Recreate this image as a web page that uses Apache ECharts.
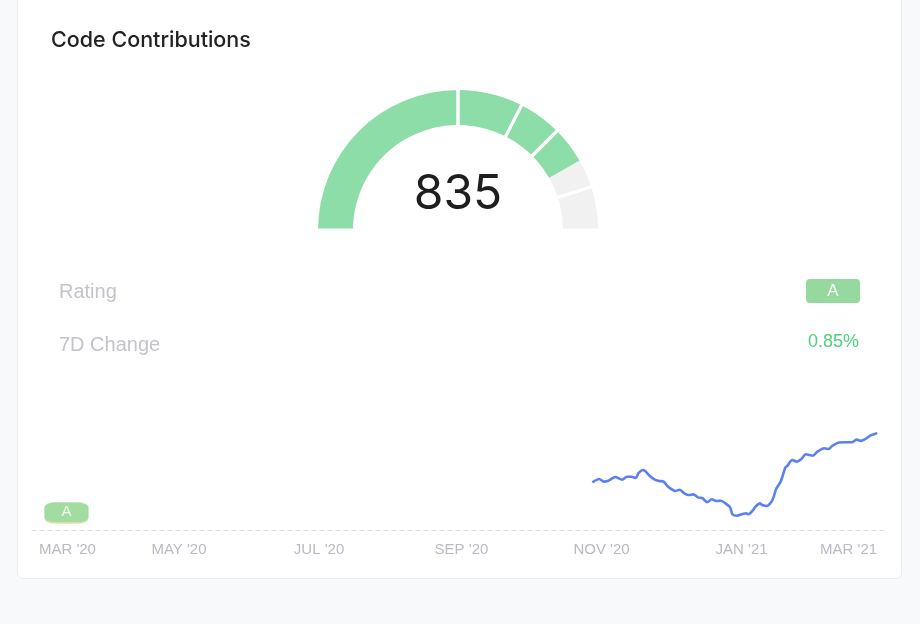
<!DOCTYPE html>
<html><head><meta charset="utf-8">
<script src="https://cdn.jsdelivr.net/npm/echarts@6/dist/echarts.min.js"></script>
<style>
html,body{margin:0;padding:0;width:920px;height:624px;background:#f8f9fb;overflow:hidden;}
#card{position:absolute;left:17px;top:-10px;width:883px;height:587px;background:#fff;border:1px solid #eaecf0;border-radius:6px;}
#chart{position:absolute;left:0;top:0;width:920px;height:624px;}
</style></head><body>
<div id="card"></div><div id="chart"></div>
<script>
// ---- data ----
const titleText = 'Code Contributions';
const gaugeMin = 0, gaugeMax = 1000, gaugeValue = 835;
const gaugeBands = [500, 650, 750, 900];
const rating = 'A';
const ratingLabel = 'Rating';
const changeLabel = '7D Change';
const changePct = 0.85;

const tickDates = ['2020-03-01','2020-05-01','2020-07-01','2020-09-01','2020-11-01','2021-01-01','2021-03-01'];
const tickLabels = ["MAR '20","MAY '20","JUL '20","SEP '20","NOV '20","JAN '21","MAR '21"];

const lineDates = [
 '2020-10-28','2020-10-31','2020-11-02','2020-11-04','2020-11-07','2020-11-10','2020-11-12','2020-11-14',
 '2020-11-16','2020-11-17','2020-11-19','2020-11-20','2020-11-22','2020-11-24','2020-11-26','2020-11-28',
 '2020-11-30','2020-12-02','2020-12-03','2020-12-05','2020-12-07','2020-12-09','2020-12-11','2020-12-13',
 '2020-12-15','2020-12-17','2020-12-19','2020-12-21','2020-12-23','2020-12-25','2020-12-27','2020-12-28',
 '2020-12-30','2021-01-01','2021-01-03','2021-01-04','2021-01-06','2021-01-07','2021-01-09','2021-01-10',
 '2021-01-12','2021-01-14','2021-01-15','2021-01-16','2021-01-18','2021-01-19','2021-01-20','2021-01-21',
 '2021-01-23','2021-01-25','2021-01-27','2021-01-29','2021-02-01','2021-02-03','2021-02-06','2021-02-08',
 '2021-02-09','2021-02-12','2021-02-15','2021-02-18','2021-02-20','2021-02-22','2021-02-24','2021-02-26',
 '2021-02-28','2021-03-01'
];
const lineValues = [
 807.0,808.9,807.4,807.9,810.0,808.5,810.2,810.2,
 809.5,812.1,814.0,813.4,810.6,808.7,807.8,807.4,
 804.5,802.7,802.1,802.8,800.8,799.8,800.2,798.5,
 798.0,795.7,797.4,796.4,796.6,795.1,792.8,788.9,
 788.1,788.9,789.5,788.9,791.3,793.2,795.1,794.2,
 793.6,796.0,798.9,803.2,807.4,811.2,815.3,816.5,
 819.7,818.7,820.2,822.9,822.1,824.4,826.3,825.9,
 827.2,829.5,829.7,829.7,831.2,830.5,831.6,833.5,
 834.4,835.0
];

const badgeDates = ['2020-03-13'];
const badgeValues = [790];
const badgeLabels = ['A'];

// ---- helpers ----
const ts = s => { const p = s.split('-'); return new Date(+p[0], +p[1]-1, +p[2]).getTime(); };
const xMin = ts('2020-02-27'), xMax = ts('2021-03-04');
const labelByTs = {};
tickDates.forEach((d,i)=>{ labelByTs[ts(d)] = tickLabels[i]; });

const GREEN = '#8cdda8', GRAY = '#f1f1f1';
const edges = [gaugeMin].concat(gaugeBands, [gaugeMax]);
const bandSlices = edges.slice(1).map((e,i)=>({value: e - edges[i]}));

const chart = echarts.init(document.getElementById('chart'), null, {renderer:'canvas'});
const option = {
  backgroundColor: 'transparent',
  animation: false,
  grid: {left: 32, right: 36, top: 380, bottom: 94},
  xAxis: {
    type: 'value', min: xMin, max: xMax, scale: true,
    axisLine: {show: true, onZero: false, lineStyle: {color: '#dcdce3', width: 1, type: [4, 4]}},
    axisTick: {show: false},
    splitLine: {show: false},
    axisLabel: {
      customValues: tickDates.map(ts),
      formatter: v => labelByTs[v] || '',
      color: '#b9b9c5', fontSize: 15, fontFamily: 'Liberation Sans',
      margin: 12, alignMinLabel: 'left', alignMaxLabel: 'right',
      hideOverlap: false
    }
  },
  yAxis: {type: 'value', min: 780, max: 865, show: false, splitLine: {show: false}},
  series: [
    {
      type: 'pie', silent: true, center: [458, 230], radius: [105, 140],
      startAngle: 180, endAngle: 0, clockwise: true,
      label: {show: false}, labelLine: {show: false},
      data: [
        {value: gaugeValue - gaugeMin, itemStyle: {color: GREEN}},
        {value: gaugeMax - gaugeValue, itemStyle: {color: GRAY}}
      ]
    },
    {
      type: 'pie', silent: true, center: [458, 230], radius: [102, 143], z: 3,
      startAngle: 180, endAngle: 0, clockwise: true,
      label: {show: false}, labelLine: {show: false},
      itemStyle: {color: 'rgba(0,0,0,0)', borderColor: '#ffffff', borderWidth: 3},
      data: bandSlices
    },
    {
      type: 'line', data: lineDates.map((d,i)=>[ts(d), lineValues[i]]),
      showSymbol: false, smooth: 0.25, silent: true,
      lineStyle: {color: '#5b80f4', width: 2.6}, z: 4
    },
    {
      type: 'scatter', silent: true, z: 5,
      data: badgeDates.map((d,i)=>[ts(d), badgeValues[i]]),
      symbol: 'roundRect', symbolSize: [44, 21], symbolOffset: [0, 1],
      itemStyle: {color: '#d6e09a'}
    },
    {
      type: 'scatter', silent: true, z: 6,
      data: badgeDates.map((d,i)=>({value: [ts(d), badgeValues[i]], name: badgeLabels[i]})),
      symbol: 'roundRect', symbolSize: [44, 20],
      itemStyle: {color: '#95d99f'},
      label: {show: true, position: 'inside', formatter: p => p.name, color: '#ffffff', fontSize: 15, fontFamily: 'Liberation Sans'}
    }
  ],
  graphic: [
    {type: 'text', left: 51, top: 30, style: {text: titleText, font: '500 21.5px Inter', fill: '#222222'}},
    {type: 'text', x: 458, y: 195, style: {text: String(gaugeValue), font: '400 48px Inter', fill: '#1e1e1e', textAlign: 'center', textVerticalAlign: 'middle'}},
    {type: 'text', x: 59, y: 292, style: {text: ratingLabel, font: '20px "Liberation Sans"', fill: '#c3c3cc', textVerticalAlign: 'middle'}},
    {type: 'text', x: 59, y: 345, style: {text: changeLabel, font: '20px "Liberation Sans"', fill: '#c3c3cc', textVerticalAlign: 'middle'}},
    {type: 'rect', shape: {x: 806, y: 279, width: 54, height: 24, r: 4}, style: {fill: '#95d99f'}},
    {type: 'text', x: 833, y: 291, style: {text: rating, font: '17px "Liberation Sans"', fill: '#ffffff', textAlign: 'center', textVerticalAlign: 'middle'}},
    {type: 'text', x: 859, y: 342, style: {text: changePct.toFixed(2) + '%', font: '18px "Liberation Sans"', fill: '#4fcf80', textAlign: 'right', textVerticalAlign: 'middle'}}
  ]
};
chart.setOption(option);
</script>
</body></html>
